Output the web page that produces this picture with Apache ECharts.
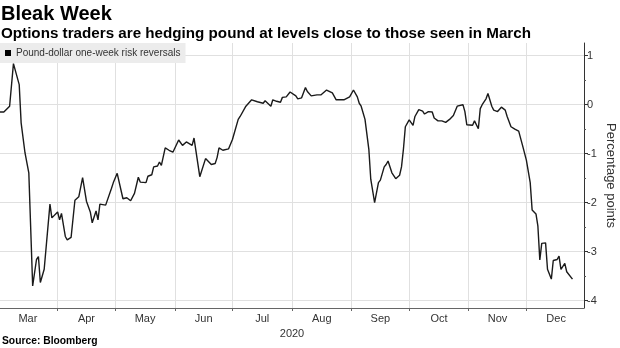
<!DOCTYPE html>
<html><head><meta charset="utf-8">
<script src="https://cdn.jsdelivr.net/npm/echarts@6/dist/echarts.min.js"></script>
<style>html,body{margin:0;padding:0;background:#fff}#c{width:620px;height:348px}</style>
</head><body><div id="c"></div>
<script>
const titleText = 'Bleak Week';
const subtitleText = 'Options traders are hedging pound at levels close to those seen in March';
const seriesName = 'Pound-dollar one-week risk reversals';
const sourceText = 'Source: Bloomberg';
const yAxisName = 'Percentage points';
const yearLabel = '2020';
const monthLabels = ['Mar','Apr','May','Jun','Jul','Aug','Sep','Oct','Nov','Dec'];
const yTickValues = [-4,-3,-2,-1,0,1];
const yMinorTickValues = [-3.5,-2.5,-1.5,-0.5,0.5];

const dates = [
 '03-02','03-04','03-07','03-09','03-10','03-12','03-13','03-15','03-17','03-19',
 '03-21','03-22','03-23','03-25','03-28','03-29','03-30','04-01','04-02','04-03',
 '04-05','04-06','04-08','04-10','04-12','04-13','04-14','04-16','04-18','04-19',
 '04-21','04-22','04-23','04-26','04-29','04-30','05-02','05-05','05-07','05-09',
 '05-11','05-13','05-14','05-17','05-18','05-20','05-21','05-23','05-24','05-25',
 '05-27','05-29','05-31','06-03','06-05','06-07','06-08','06-10','06-11','06-14',
 '06-17','06-18','06-20','06-22','06-23','06-24','06-26','06-29','07-01','07-04',
 '07-05','07-06','07-08','07-11','07-12','07-14','07-15','07-17','07-18','07-19',
 '07-21','07-22','07-24','07-26','07-27','07-29','07-31','08-03','08-04','08-06',
 '08-08','08-09','08-11','08-12','08-14','08-16','08-17','08-19','08-20','08-22',
 '08-24','08-25','08-28','08-29','08-31','09-02','09-04','09-05','09-06','09-08',
 '09-10','09-11','09-13','09-15','09-16','09-18','09-19','09-20','09-22','09-24',
 '09-26','09-27','09-28','09-29','10-01','10-02','10-03','10-04','10-06','10-08',
 '10-09','10-11','10-13','10-14','10-16','10-18','10-20','10-22','10-24','10-26',
 '10-27','10-29','10-30','10-31','11-01','11-03','11-04','11-06','11-07','11-08',
 '11-10','11-11','11-13','11-14','11-16','11-18','11-20','11-21','11-23','11-24',
 '11-25','11-27','11-29','12-01','12-03','12-04','12-06','12-07','12-08','12-09',
 '12-11','12-12','12-14','12-15','12-17','12-18','12-19','12-21','12-22','12-23',
 '12-25'
];
const values = [
 -0.15,-0.15,-0.03,0.84,0.80,0.41,-0.37,-0.98,-1.39,-3.70,
 -3.16,-3.10,-3.63,-3.36,-2.03,-2.31,-2.29,-2.19,-2.35,-2.22,
 -2.69,-2.76,-2.71,-1.95,-1.88,-1.86,-1.49,-1.97,-2.19,-2.41,
 -2.17,-2.35,-2.03,-2.05,-1.71,-1.59,-1.40,-1.92,-1.90,-1.96,
 -1.81,-1.48,-1.58,-1.59,-1.46,-1.43,-1.27,-1.25,-1.17,-1.24,
 -0.88,-0.93,-0.97,-0.72,-0.83,-0.76,-0.76,-0.83,-0.68,-1.47,
 -1.10,-1.13,-1.22,-1.20,-1.08,-0.88,-0.93,-0.90,-0.71,-0.30,
 -0.24,-0.22,-0.03,0.10,0.08,0.06,0.07,0.03,0.08,0.07,
 -0.03,0.10,0.07,0.05,0.15,0.16,0.26,0.18,0.12,0.14,
 0.35,0.27,0.18,0.22,0.20,0.20,0.16,0.30,0.28,0.24,
 0.10,0.07,0.10,0.14,0.16,0.30,0.16,0.03,-0.03,-0.30,
 -0.91,-1.52,-2.00,-1.59,-1.54,-1.27,-1.22,-1.15,-1.39,-1.51,
 -1.44,-1.27,-0.91,-0.45,-0.31,-0.33,-0.42,-0.24,-0.10,-0.13,
 -0.19,-0.14,-0.15,-0.27,-0.33,-0.33,-0.36,-0.30,-0.22,-0.03,
 0.01,0.00,-0.14,-0.41,-0.39,-0.42,-0.33,-0.49,-0.08,0.00,
 0.12,0.23,-0.03,-0.11,-0.14,-0.05,-0.11,-0.24,-0.45,-0.44,
 -0.50,-0.54,-0.83,-1.13,-1.59,-2.15,-2.23,-2.48,-3.17,-2.83,
 -2.82,-3.36,-3.56,-3.18,-3.16,-3.09,-3.36,-3.24,-3.41,-3.38,
 -3.56
];

const YEAR = 2020;
function ts(md) { const [m, d] = md.split('-').map(Number); return Date.UTC(YEAR, m - 1, d); }
const seriesData = dates.map((d, i) => [ts(d), values[i]]);
const monthStarts = [];
for (let m = 2; m <= 12; m++) monthStarts.push(Date.UTC(YEAR, m, 1));
const monthMids = [];
for (let i = 0; i < monthStarts.length - 1; i++) monthMids.push((monthStarts[i] + monthStarts[i + 1]) / 2);

const FONT = "'Liberation Sans', Arial, sans-serif";
const gridColor = '#e0e0e0';
const chart = echarts.init(document.getElementById('c'), null, { renderer: 'canvas' });
chart.setOption({
  animation: false,
  backgroundColor: '#fff',
  textStyle: { fontFamily: FONT },
  title: [
    { text: titleText, left: 1, top: 4, padding: 0, textStyle: { fontSize: 20, fontWeight: 'bold', color: '#000', fontFamily: FONT } },
    { text: subtitleText, left: 1, top: 26, padding: 0, textStyle: { fontSize: 15.2, fontWeight: 'bold', color: '#000', fontFamily: FONT } },
    { text: sourceText, left: 2, top: 336, padding: 0, textStyle: { fontSize: 10.3, fontWeight: 'bold', color: '#000', fontFamily: FONT } }
  ],
  legend: {
    data: [seriesName], left: 0, top: 43, padding: [5, 5, 5, 5],
    backgroundColor: '#ececec', icon: 'rect', itemWidth: 6, itemHeight: 6,
    selectedMode: false,
    textStyle: { fontSize: 10, color: '#333', fontFamily: FONT }
  },
  grid: { left: 0, right: 36, top: 43, bottom: 40, outerBoundsMode: 'none', containLabel: false },
  xAxis: {
    type: 'value',
    min: Date.UTC(YEAR, 2, 2), max: Date.UTC(YEAR, 11, 31),
    axisLine: { show: true, onZero: false, lineStyle: { color: '#666', width: 1 } },
    axisTick: { show: true, customValues: monthStarts, length: 3, lineStyle: { color: '#666' } },
    axisLabel: { customValues: monthMids, formatter: v => monthLabels[new Date(v).getUTCMonth() - 2], fontSize: 11, color: '#333', margin: 5, fontFamily: FONT },
    splitLine: { show: true, lineStyle: { color: gridColor, width: 1 } },
    name: yearLabel, nameLocation: 'middle', nameGap: 16,
    nameTextStyle: { fontSize: 11, color: '#333', fontFamily: FONT }
  },
  yAxis: [
    {
      type: 'value', position: 'right', min: -4.15, max: 1.26,
      axisLine: { show: true, onZero: false, lineStyle: { color: '#333', width: 1 } },
      axisTick: { show: true, customValues: yTickValues, length: 4, lineStyle: { color: '#333' } },
      axisLabel: { customValues: yTickValues, fontSize: 11, color: '#333', margin: 3, fontFamily: FONT },
      splitLine: { show: true, lineStyle: { color: gridColor, width: 1 } },
      name: yAxisName, nameLocation: 'middle', nameRotate: -90, nameGap: 20, nameMoveOverlap: false,
      nameTextStyle: { fontSize: 13, color: '#333', fontFamily: FONT }
    },
    {
      type: 'value', position: 'right', min: -4.15, max: 1.26,
      axisLine: { show: false, onZero: false },
      axisTick: { show: true, customValues: yMinorTickValues, length: 2, lineStyle: { color: '#555' } },
      axisLabel: { show: false },
      splitLine: { show: false }
    }
  ],
  series: [{
    name: seriesName, type: 'line', yAxisIndex: 0, data: seriesData,
    showSymbol: false, symbol: 'none',
    lineStyle: { color: '#1a1a1a', width: 1.4 },
    itemStyle: { color: '#000' }
  }]
});
</script>
</body></html>
